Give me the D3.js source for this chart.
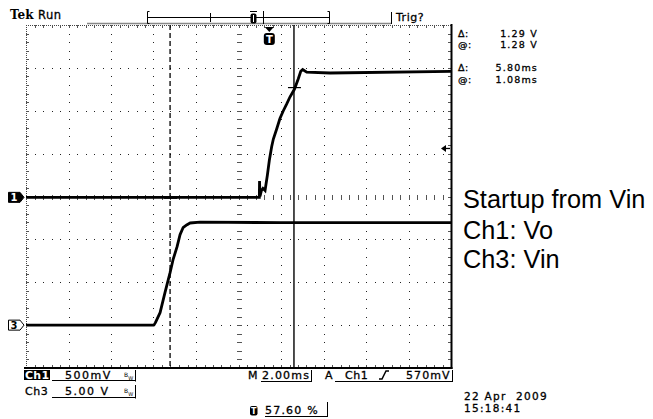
<!DOCTYPE html>
<html><head><meta charset="utf-8">
<script src="https://cdn.jsdelivr.net/npm/d3@7"></script>
<style>
body{margin:0;background:#fff}
text{font-family:"DejaVu Sans",sans-serif;fill:#000}
.sc{stroke:#000;stroke-width:0.3px}
</style>
</head><body>
<svg id="c" width="653" height="419"></svg>
<script>
// ---------- data ----------
const ch1Time  = [0, 10.98, 10.99, 11.01, 11.08, 11.15, 11.25, 11.36, 11.45, 11.56, 11.64, 11.80, 11.95, 12.11, 12.27, 12.42, 12.63, 12.81, 12.93, 13.02, 13.21, 14.31, 20];
const ch1Volts = [0, 0, 0.19, 0.01, 0.08, 0.105, 0.08, 0.26, 0.43, 0.59, 0.68, 0.80, 0.92, 1.01, 1.09, 1.17, 1.26, 1.38, 1.47, 1.49, 1.46, 1.45, 1.47];
const ch3Time  = [0, 6.02, 6.09, 6.31, 6.54, 6.78, 6.92, 7.11, 7.25, 7.39, 7.58, 7.72, 8.19, 12.0, 20];
const ch3Volts = [0, 0, 0.29, 1.46, 3.79, 6.12, 7.63, 9.15, 10.55, 11.36, 11.71, 11.91, 12.0, 11.95, 11.95];
const cursorTimes = [6.78, 12.61];
const cursorVolts = [-0.01, 1.28];
const triggerLevel = 0.57;
const triggerTime = 11.45;
const readoutLabels = ["\u0394:", "@:", "\u0394:", "@:"];
const readoutValues = ["1.29 V", "1.28 V", "5.80ms", "1.08ms"];
const annotationLines = ["Startup from Vin", "Ch1: Vo", "Ch3: Vin"];
const channelLabels = ["Ch1", "Ch3"];
const channelScales = ["500mV", "5.00 V"];
const timebaseLabel = "2.00ms";
const triggerLabels = ["A", "Ch1", "570mV"];
const triggerPosLabel = "57.60 %";
const dateLines = ["22 Apr  2009", "15:18:41"];

// ---------- setup ----------
const svg = d3.select("#c");
const plot = {left: 26, right: 451, top: 25, bottom: 368};
const msPerDiv = 2, ch1VoltsPerDiv = 0.5, ch3VoltsPerDiv = 5;
const ch1Position = -0.02, ch3Position = -3;
const x = d3.scaleLinear().domain([0, 10 * msPerDiv]).range([plot.left, plot.right]);
const yDiv = d3.scaleLinear().domain([-4, 4]).range([plot.bottom, plot.top]);
const y1 = v => yDiv(ch1Position + v / ch1VoltsPerDiv);
const y3 = v => yDiv(ch3Position + v / ch3VoltsPerDiv);

const minorX = d3.range(0, 51).map(k => x(k * msPerDiv / 5));
const minorY = d3.range(0, 41).map(k => yDiv(-4 + k / 5));
const majorX = d3.range(0, 11).map(i => x(i * msPerDiv));
const majorY = d3.range(0, 9).map(j => yDiv(-4 + j));

// ---------- header ----------
const hdr = svg.append("g");
hdr.append("text").attr("x", 10).attr("y", 19).style("font-family", "'DejaVu Serif',serif")
  .style("font-weight", "bold").style("font-size", "12px").text("Tek");
hdr.append("text").attr("class", "sc").attr("x", 38).attr("y", 19).style("font-size", "11.5px").style("letter-spacing", "0.5px").text("Run");
hdr.append("line").attr("x1", 87).attr("x2", 391).attr("y1", 23.5).attr("y2", 23.5).attr("stroke", "#888").attr("stroke-width", 1.6);
hdr.append("line").attr("x1", 147).attr("x2", 330).attr("y1", 17.5).attr("y2", 17.5).attr("stroke", "#000");
[[147.5, 1], [329.5, -1]].forEach(([bx, d]) => {
  hdr.append("path").attr("d", `M${bx + 2 * d},11.5 H${bx} V23.5 H${bx + 2 * d}`).attr("fill", "none").attr("stroke", "#000");
});
hdr.append("line").attr("x1", 210.5).attr("x2", 210.5).attr("y1", 13).attr("y2", 22).attr("stroke", "#000");
hdr.append("line").attr("x1", 263.5).attr("x2", 263.5).attr("y1", 11).attr("y2", 24).attr("stroke", "#000");
hdr.append("line").attr("x1", 250).attr("x2", 257).attr("y1", 11.5).attr("y2", 11.5).attr("stroke", "#000");
hdr.append("rect").attr("x", 250.5).attr("y", 13.5).attr("width", 6).attr("height", 10).attr("rx", 2).attr("fill", "#000");
hdr.append("line").attr("x1", 253.5).attr("x2", 253.5).attr("y1", 15).attr("y2", 22).attr("stroke", "#fff");
hdr.append("line").attr("x1", 391.5).attr("x2", 391.5).attr("y1", 12).attr("y2", 24).attr("stroke", "#000");
hdr.append("text").attr("class", "sc").attr("x", 396).attr("y", 20.5).style("font-size", "11px").style("letter-spacing", "0.5px").text("Trig?");

// ---------- graticule ----------
const grid = svg.append("g");
majorX.slice(1, 10).forEach(mx => {
  minorY.slice(1, 40).forEach(my => {
    grid.append("rect").attr("x", Math.round(mx)).attr("y", Math.round(my)).attr("width", 1).attr("height", 1).attr("fill", "#222");
  });
});
majorY.slice(1, 8).forEach(my => {
  minorX.slice(1, 50).forEach(mx => {
    grid.append("rect").attr("x", Math.round(mx)).attr("y", Math.round(my)).attr("width", 1).attr("height", 1).attr("fill", "#222");
  });
});
// center ticks
minorY.slice(1, 40).forEach(my => grid.append("line").attr("x1", Math.round(majorX[5]) - 2).attr("x2", Math.round(majorX[5]) + 3)
  .attr("y1", Math.round(my) + 0.5).attr("y2", Math.round(my) + 0.5).attr("stroke", "#555").attr("stroke-width", 1));
minorX.slice(1, 50).forEach(mx => grid.append("line").attr("y1", Math.round(majorY[4]) - 2).attr("y2", Math.round(majorY[4]) + 3)
  .attr("x1", Math.round(mx) + 0.5).attr("x2", Math.round(mx) + 0.5).attr("stroke", "#555").attr("stroke-width", 1));
// top / left dotted borders
grid.append("line").attr("x1", plot.left).attr("x2", plot.right).attr("y1", plot.top + 0.5).attr("y2", plot.top + 0.5)
  .attr("stroke", "#444").attr("stroke-dasharray", "1,1");
grid.append("line").attr("y1", plot.top).attr("y2", plot.bottom).attr("x1", plot.left + 0.5).attr("x2", plot.left + 0.5)
  .attr("stroke", "#444").attr("stroke-dasharray", "1,1");
minorX.slice(1, 50).forEach(mx => {
  grid.append("line").attr("x1", Math.round(mx) + 0.5).attr("x2", Math.round(mx) + 0.5).attr("y1", plot.top).attr("y2", plot.top + 3).attr("stroke", "#555");
  grid.append("line").attr("x1", Math.round(mx) + 0.5).attr("x2", Math.round(mx) + 0.5).attr("y1", plot.bottom - 3).attr("y2", plot.bottom).attr("stroke", "#555");
});
minorY.slice(1, 40).forEach(my => {
  grid.append("line").attr("y1", Math.round(my) + 0.5).attr("y2", Math.round(my) + 0.5).attr("x1", plot.left).attr("x2", plot.left + 3).attr("stroke", "#555");
  grid.append("line").attr("y1", Math.round(my) + 0.5).attr("y2", Math.round(my) + 0.5).attr("x1", plot.right - 3).attr("x2", plot.right).attr("stroke", "#555");
});
// solid right / bottom borders
grid.append("line").attr("x1", plot.right + 0.5).attr("x2", plot.right + 0.5).attr("y1", plot.top - 1).attr("y2", plot.bottom + 1).attr("stroke", "#000").attr("stroke-width", 2);
grid.append("line").attr("x1", plot.left - 2).attr("x2", plot.right + 1.5).attr("y1", plot.bottom).attr("y2", plot.bottom).attr("stroke", "#000").attr("stroke-width", 2);

// ---------- cursors ----------
const cur = svg.append("g");
cur.append("line").attr("x1", x(cursorTimes[0])).attr("x2", x(cursorTimes[0])).attr("y1", plot.top).attr("y2", plot.bottom)
  .attr("stroke", "#000").attr("stroke-width", 1.3).attr("stroke-dasharray", "5,3");
cur.append("line").attr("x1", x(cursorTimes[1])).attr("x2", x(cursorTimes[1])).attr("y1", plot.top).attr("y2", plot.bottom)
  .attr("stroke", "#000").attr("stroke-width", 1.4);
cursorTimes.forEach((t, i) => {
  cur.append("line").attr("x1", x(t) - 6).attr("x2", x(t) + 7).attr("y1", y1(cursorVolts[i])).attr("y2", y1(cursorVolts[i]))
    .attr("stroke", "#000").attr("stroke-width", 1.2);
});

// ---------- traces ----------
const line = d3.line();
svg.append("path").datum(ch3Time.map((t, i) => [x(t), y3(ch3Volts[i])]))
  .attr("d", line).attr("fill", "none").attr("stroke", "#000").attr("stroke-width", 2.8).attr("stroke-linejoin", "round");
svg.append("path").datum(ch1Time.map((t, i) => [x(t), y1(ch1Volts[i])]))
  .attr("d", line).attr("fill", "none").attr("stroke", "#000").attr("stroke-width", 2.8).attr("stroke-linejoin", "miter");

// ---------- markers ----------
function chMarker(yy, label, filled) {
  const m = svg.append("g");
  m.append("path").attr("d", `M8.5,${yy - 5} H20 L24,${yy} L20,${yy + 5} H8.5 Z`)
    .attr("fill", filled ? "#000" : "#fff").attr("stroke", "#000").attr("stroke-width", 1);
  m.append("text").attr("x", 14).attr("y", yy + 4).attr("text-anchor", "middle").style("font-size", "10px")
    .style("font-weight", "bold").style("fill", filled ? "#fff" : "#000").text(label);
}
chMarker(y1(0), "1", true);
chMarker(y3(0), "3", false);

// trigger position marker (top)
const tx = x(triggerTime);
svg.append("path").attr("d", `M${tx - 4.5},27 H${tx + 4.5} L${tx},32 Z`).attr("fill", "#000");
svg.append("rect").attr("x", tx - 5.5).attr("y", 33).attr("width", 11).attr("height", 12).attr("rx", 3).attr("fill", "#000");
svg.append("text").attr("x", tx).attr("y", 43).attr("text-anchor", "middle").style("font-size", "10px").style("font-weight", "bold").style("fill", "#fff").text("T");

// trigger level arrow (right)
const ty = y1(triggerLevel);
svg.append("path").attr("d", `M${plot.right - 10},${ty} L${plot.right - 5},${ty - 3.5} L${plot.right - 5},${ty + 3.5} Z`).attr("fill", "#000");
svg.append("line").attr("x1", plot.right - 6).attr("x2", plot.right - 1).attr("y1", ty).attr("y2", ty).attr("stroke", "#000").attr("stroke-width", 1.3);

// ---------- readouts ----------
const ro = svg.append("g").style("font-size", "9.5px");
const roY = [36.5, 47.5, 71, 82.5];
readoutLabels.forEach((l, i) => {
  ro.append("text").attr("class", "sc").attr("x", 458).attr("y", roY[i]).style("letter-spacing", "0.5px").text(l);
  ro.append("text").attr("class", "sc").attr("x", 538).attr("y", roY[i]).attr("text-anchor", "end").style("letter-spacing", "1.2px").text(readoutValues[i]);
});

// ---------- annotation ----------
const ann = svg.append("g");
const annY = [208, 239, 268];
annotationLines.forEach((s, i) => {
  ann.append("text").attr("x", 463).attr("y", annY[i]).style("font-family", "'Liberation Sans',Arial,sans-serif")
    .style("font-size", "25.3px").text(s);
});

// ---------- bottom status ----------
const bt = svg.append("g").style("font-size", "11px");
bt.append("rect").attr("x", 24).attr("y", 370).attr("width", 26).attr("height", 10).attr("fill", "#000");
bt.append("text").attr("x", 25).attr("y", 379).style("fill", "#fff").style("font-weight", "bold").style("letter-spacing", "0.3px").text(channelLabels[0]);
bt.append("text").attr("class", "sc").attr("x", 25).attr("y", 395).style("letter-spacing", "0.5px").text(channelLabels[1]);
[[379, 380.5, 370], [395, 397.5, 385]].forEach(([by, uy, vy], i) => {
  bt.append("text").attr("class", "sc").attr("x", 65).attr("y", by).style("letter-spacing", "1.5px").text(channelScales[i]);
  const bw = bt.append("text").attr("x", 124).attr("y", by - 2).style("font-size", "6px");
  bw.append("tspan").text("B");
  bw.append("tspan").attr("dy", 3).style("font-size", "5px").text("W");
  bt.append("line").attr("x1", 52).attr("x2", 135).attr("y1", uy).attr("y2", uy).attr("stroke", "#000");
  bt.append("line").attr("x1", 135.5).attr("x2", 135.5).attr("y1", vy).attr("y2", uy + 1).attr("stroke", "#000");
});
bt.append("text").attr("class", "sc").attr("x", 248).attr("y", 379).style("letter-spacing", "0.5px").text("M");
bt.append("text").attr("class", "sc").attr("x", 262).attr("y", 379).style("letter-spacing", "1.2px").text(timebaseLabel);
bt.append("line").attr("x1", 261).attr("x2", 311).attr("y1", 381.5).attr("y2", 381.5).attr("stroke", "#000");
bt.append("line").attr("x1", 311.5).attr("x2", 311.5).attr("y1", 370).attr("y2", 382).attr("stroke", "#000");
bt.append("text").attr("class", "sc").attr("x", 325).attr("y", 379).text(triggerLabels[0]);
bt.append("text").attr("class", "sc").attr("x", 345).attr("y", 379).style("letter-spacing", "0.5px").text(triggerLabels[1]);
bt.append("path").attr("d", "M379,379 H382 L386,371 H389").attr("fill", "none").attr("stroke", "#000").attr("stroke-width", 1.5);
bt.append("text").attr("class", "sc").attr("x", 406).attr("y", 379).style("letter-spacing", "1.1px").text(triggerLabels[2]);
bt.append("line").attr("x1", 335).attr("x2", 452).attr("y1", 381.5).attr("y2", 381.5).attr("stroke", "#000");
bt.append("line").attr("x1", 452.5).attr("x2", 452.5).attr("y1", 370).attr("y2", 382).attr("stroke", "#000");
bt.append("rect").attr("x", 250).attr("y", 406).attr("width", 7.5).attr("height", 9.5).attr("rx", 2).attr("fill", "#000");
bt.append("text").attr("x", 253.7).attr("y", 414).attr("text-anchor", "middle").style("font-size", "8px").style("font-weight", "bold").style("fill", "#fff").text("T");
bt.append("text").attr("class", "sc").attr("x", 265).attr("y", 414).style("letter-spacing", "1.2px").text(triggerPosLabel);
bt.append("line").attr("x1", 265).attr("x2", 327).attr("y1", 416.5).attr("y2", 416.5).attr("stroke", "#000");
bt.append("line").attr("x1", 327.5).attr("x2", 327.5).attr("y1", 402).attr("y2", 417).attr("stroke", "#000");
bt.append("text").attr("class", "sc").attr("x", 464).attr("y", 399.5).style("font-size", "10.5px").style("letter-spacing", "1.3px").style("white-space", "pre").text(dateLines[0]);
bt.append("text").attr("class", "sc").attr("x", 464).attr("y", 411.5).style("font-size", "10.5px").style("letter-spacing", "1.3px").text(dateLines[1]);
</script>
</body></html>
